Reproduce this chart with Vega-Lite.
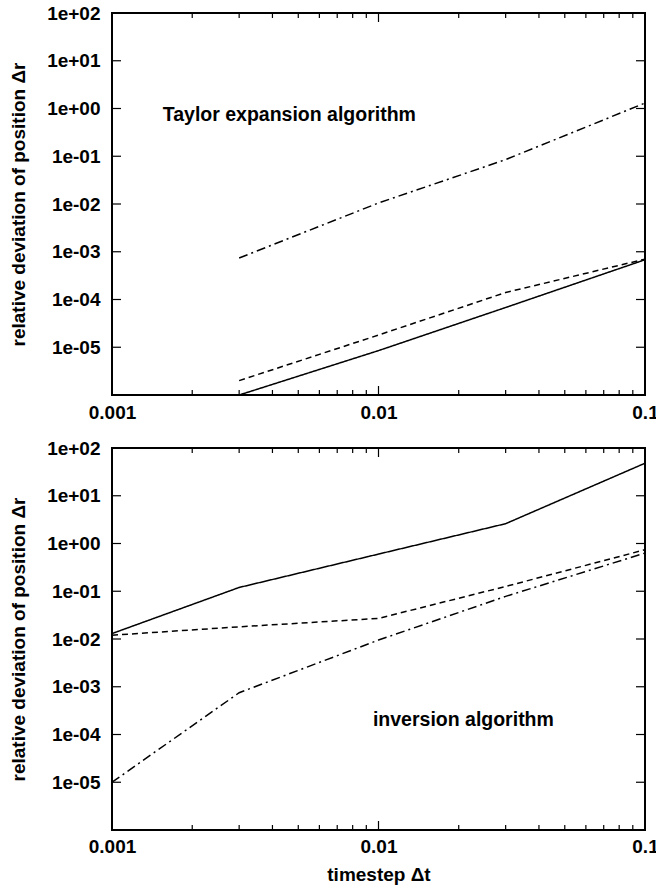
{
  "$schema": "https://vega.github.io/schema/vega-lite/v6.json",
  "padding": {"left": 8, "top": 3, "right": 0, "bottom": 0},
  "spacing": 15,
  "datasets": {
    "taylor": [
      {"dt": 0.003, "dr": 1.0e-6, "series": "solid"},
      {"dt": 0.01, "dr": 8.5e-6, "series": "solid"},
      {"dt": 0.03, "dr": 6.8e-5, "series": "solid"},
      {"dt": 0.1, "dr": 6.8e-4, "series": "solid"},
      {"dt": 0.003, "dr": 2.0e-6, "series": "dashed"},
      {"dt": 0.01, "dr": 1.8e-5, "series": "dashed"},
      {"dt": 0.03, "dr": 1.4e-4, "series": "dashed"},
      {"dt": 0.1, "dr": 7.0e-4, "series": "dashed"},
      {"dt": 0.003, "dr": 7.4e-4, "series": "dashdot"},
      {"dt": 0.01, "dr": 1.05e-2, "series": "dashdot"},
      {"dt": 0.03, "dr": 8.5e-2, "series": "dashdot"},
      {"dt": 0.1, "dr": 1.3, "series": "dashdot"}
    ],
    "inversion": [
      {"dt": 0.001, "dr": 0.013, "series": "solid"},
      {"dt": 0.003, "dr": 0.12, "series": "solid"},
      {"dt": 0.01, "dr": 0.6, "series": "solid"},
      {"dt": 0.03, "dr": 2.6, "series": "solid"},
      {"dt": 0.1, "dr": 48, "series": "solid"},
      {"dt": 0.001, "dr": 0.012, "series": "dashed"},
      {"dt": 0.003, "dr": 0.018, "series": "dashed"},
      {"dt": 0.01, "dr": 0.027, "series": "dashed"},
      {"dt": 0.03, "dr": 0.126, "series": "dashed"},
      {"dt": 0.1, "dr": 0.74, "series": "dashed"},
      {"dt": 0.001, "dr": 1.0e-5, "series": "dashdot"},
      {"dt": 0.003, "dr": 7.5e-4, "series": "dashdot"},
      {"dt": 0.01, "dr": 0.0095, "series": "dashdot"},
      {"dt": 0.03, "dr": 0.078, "series": "dashdot"},
      {"dt": 0.1, "dr": 0.63, "series": "dashdot"}
    ],
    "xticks": [
      {"dt": 0.001, "kind": "major"}, {"dt": 0.002, "kind": "minor"}, {"dt": 0.003, "kind": "minor"},
      {"dt": 0.004, "kind": "minor"}, {"dt": 0.005, "kind": "minor"}, {"dt": 0.006, "kind": "minor"},
      {"dt": 0.007, "kind": "minor"}, {"dt": 0.008, "kind": "minor"}, {"dt": 0.009, "kind": "minor"},
      {"dt": 0.01, "kind": "major"}, {"dt": 0.02, "kind": "minor"}, {"dt": 0.03, "kind": "minor"},
      {"dt": 0.04, "kind": "minor"}, {"dt": 0.05, "kind": "minor"}, {"dt": 0.06, "kind": "minor"},
      {"dt": 0.07, "kind": "minor"}, {"dt": 0.08, "kind": "minor"}, {"dt": 0.09, "kind": "minor"},
      {"dt": 0.1, "kind": "major"}
    ],
    "yticks": [
      {"dr": 1e-5}, {"dr": 1e-4}, {"dr": 1e-3}, {"dr": 1e-2}, {"dr": 1e-1}, {"dr": 1}, {"dr": 10}, {"dr": 100}
    ]
  },
  "vconcat": [
    {
      "width": 533,
      "height": 382,
      "layer": [
        {
          "data": {"name": "taylor"},
          "mark": {"type": "line", "color": "black", "strokeWidth": 1.5, "clip": true},
          "encoding": {
            "x": {"field": "dt", "type": "quantitative",
              "scale": {"type": "log", "domain": [0.001, 0.1]},
              "axis": {"orient": "bottom", "title": null, "ticks": false, "tickSize": 0,
                "values": [0.001, 0.01, 0.1],
                "labelExpr": "datum.value == 0.001 ? '0.001' : datum.value == 0.01 ? '0.01' : '0.1'",
                "labelPadding": 8}},
            "y": {"field": "dr", "type": "quantitative",
              "scale": {"type": "log", "domain": [1e-6, 100]},
              "axis": {"orient": "left", "title": "relative deviation of position Δr", "ticks": false, "tickSize": 0,
                "values": [1e-5, 1e-4, 1e-3, 1e-2, 1e-1, 1, 10, 100],
                "labelExpr": "'1e' + (round(log(datum.value)/LN10) < 0 ? '-' : '+') + pad(toString(abs(round(log(datum.value)/LN10))), 2, '0', 'left')",
                "labelPadding": 12, "titlePadding": 18}},
            "strokeDash": {"field": "series", "type": "nominal",
              "scale": {"domain": ["solid", "dashed", "dashdot"], "range": [[1, 0], [6, 4], [9, 4, 2, 4]]},
              "legend": null}
          }
        },
        {
          "data": {"values": [{}]},
          "mark": {"type": "text", "text": "Taylor expansion algorithm", "align": "left", "baseline": "middle", "font": "Liberation Sans", "fontSize": 19.5, "fontWeight": "bold", "color": "black"},
          "encoding": {
            "x": {"datum": 0.00155, "type": "quantitative"},
            "y": {"datum": 0.72, "type": "quantitative"}
          }
        },
        {
          "data": {"name": "xticks"},
          "mark": {"type": "tick", "orient": "vertical", "color": "black", "thickness": 1.2, "clip": true, "opacity": 1},
          "encoding": {
            "x": {"field": "dt", "type": "quantitative"},
            "y": {"datum": 1e-6, "type": "quantitative"},
            "size": {"field": "kind", "type": "nominal", "scale": {"domain": ["major", "minor"], "range": [18, 10]}, "legend": null}
          }
        },
        {
          "data": {"name": "xticks"},
          "mark": {"type": "tick", "orient": "vertical", "color": "black", "thickness": 1.2, "clip": true, "opacity": 1},
          "encoding": {
            "x": {"field": "dt", "type": "quantitative"},
            "y": {"datum": 100, "type": "quantitative"},
            "size": {"field": "kind", "type": "nominal", "scale": {"domain": ["major", "minor"], "range": [18, 10]}, "legend": null}
          }
        },
        {
          "data": {"name": "yticks"},
          "mark": {"type": "tick", "orient": "horizontal", "color": "black", "thickness": 1.2, "clip": true, "opacity": 1, "size": 18},
          "encoding": {
            "y": {"field": "dr", "type": "quantitative"},
            "x": {"datum": 0.001, "type": "quantitative"}
          }
        },
        {
          "data": {"name": "yticks"},
          "mark": {"type": "tick", "orient": "horizontal", "color": "black", "thickness": 1.2, "clip": true, "opacity": 1, "size": 18},
          "encoding": {
            "y": {"field": "dr", "type": "quantitative"},
            "x": {"datum": 0.1, "type": "quantitative"}
          }
        }
      ]
    },
    {
      "width": 533,
      "height": 382,
      "layer": [
        {
          "data": {"name": "inversion"},
          "mark": {"type": "line", "color": "black", "strokeWidth": 1.5, "clip": true},
          "encoding": {
            "x": {"field": "dt", "type": "quantitative",
              "scale": {"type": "log", "domain": [0.001, 0.1]},
              "axis": {"orient": "bottom", "title": "timestep Δt", "ticks": false, "tickSize": 0,
                "values": [0.001, 0.01, 0.1],
                "labelExpr": "datum.value == 0.001 ? '0.001' : datum.value == 0.01 ? '0.01' : '0.1'",
                "labelPadding": 7, "titlePadding": 9}},
            "y": {"field": "dr", "type": "quantitative",
              "scale": {"type": "log", "domain": [1e-6, 100]},
              "axis": {"orient": "left", "title": "relative deviation of position Δr", "ticks": false, "tickSize": 0,
                "values": [1e-5, 1e-4, 1e-3, 1e-2, 1e-1, 1, 10, 100],
                "labelExpr": "'1e' + (round(log(datum.value)/LN10) < 0 ? '-' : '+') + pad(toString(abs(round(log(datum.value)/LN10))), 2, '0', 'left')",
                "labelPadding": 12, "titlePadding": 18}},
            "strokeDash": {"field": "series", "type": "nominal",
              "scale": {"domain": ["solid", "dashed", "dashdot"], "range": [[1, 0], [6, 4], [9, 4, 2, 4]]},
              "legend": null}
          }
        },
        {
          "data": {"values": [{}]},
          "mark": {"type": "text", "text": "inversion algorithm", "align": "left", "baseline": "middle", "font": "Liberation Sans", "fontSize": 19.5, "fontWeight": "bold", "color": "black"},
          "encoding": {
            "x": {"datum": 0.00953, "type": "quantitative"},
            "y": {"datum": 0.0002, "type": "quantitative"}
          }
        },
        {
          "data": {"name": "xticks"},
          "mark": {"type": "tick", "orient": "vertical", "color": "black", "thickness": 1.2, "clip": true, "opacity": 1},
          "encoding": {
            "x": {"field": "dt", "type": "quantitative"},
            "y": {"datum": 1e-6, "type": "quantitative"},
            "size": {"field": "kind", "type": "nominal", "scale": {"domain": ["major", "minor"], "range": [18, 10]}, "legend": null}
          }
        },
        {
          "data": {"name": "xticks"},
          "mark": {"type": "tick", "orient": "vertical", "color": "black", "thickness": 1.2, "clip": true, "opacity": 1},
          "encoding": {
            "x": {"field": "dt", "type": "quantitative"},
            "y": {"datum": 100, "type": "quantitative"},
            "size": {"field": "kind", "type": "nominal", "scale": {"domain": ["major", "minor"], "range": [18, 10]}, "legend": null}
          }
        },
        {
          "data": {"name": "yticks"},
          "mark": {"type": "tick", "orient": "horizontal", "color": "black", "thickness": 1.2, "clip": true, "opacity": 1, "size": 18},
          "encoding": {
            "y": {"field": "dr", "type": "quantitative"},
            "x": {"datum": 0.001, "type": "quantitative"}
          }
        },
        {
          "data": {"name": "yticks"},
          "mark": {"type": "tick", "orient": "horizontal", "color": "black", "thickness": 1.2, "clip": true, "opacity": 1, "size": 18},
          "encoding": {
            "y": {"field": "dr", "type": "quantitative"},
            "x": {"datum": 0.1, "type": "quantitative"}
          }
        }
      ]
    }
  ],
  "config": {
    "view": {"stroke": "black", "strokeWidth": 2},
    "axis": {
      "domain": false, "grid": false,
      "labelFont": "Liberation Sans", "labelFontSize": 19, "labelFontWeight": "bold", "labelColor": "black",
      "titleFont": "Liberation Sans", "titleFontSize": 19, "titleFontWeight": "bold", "titleColor": "black",
      "labelFlush": false, "labelOverlap": false, "labelBound": false
    }
  }
}
